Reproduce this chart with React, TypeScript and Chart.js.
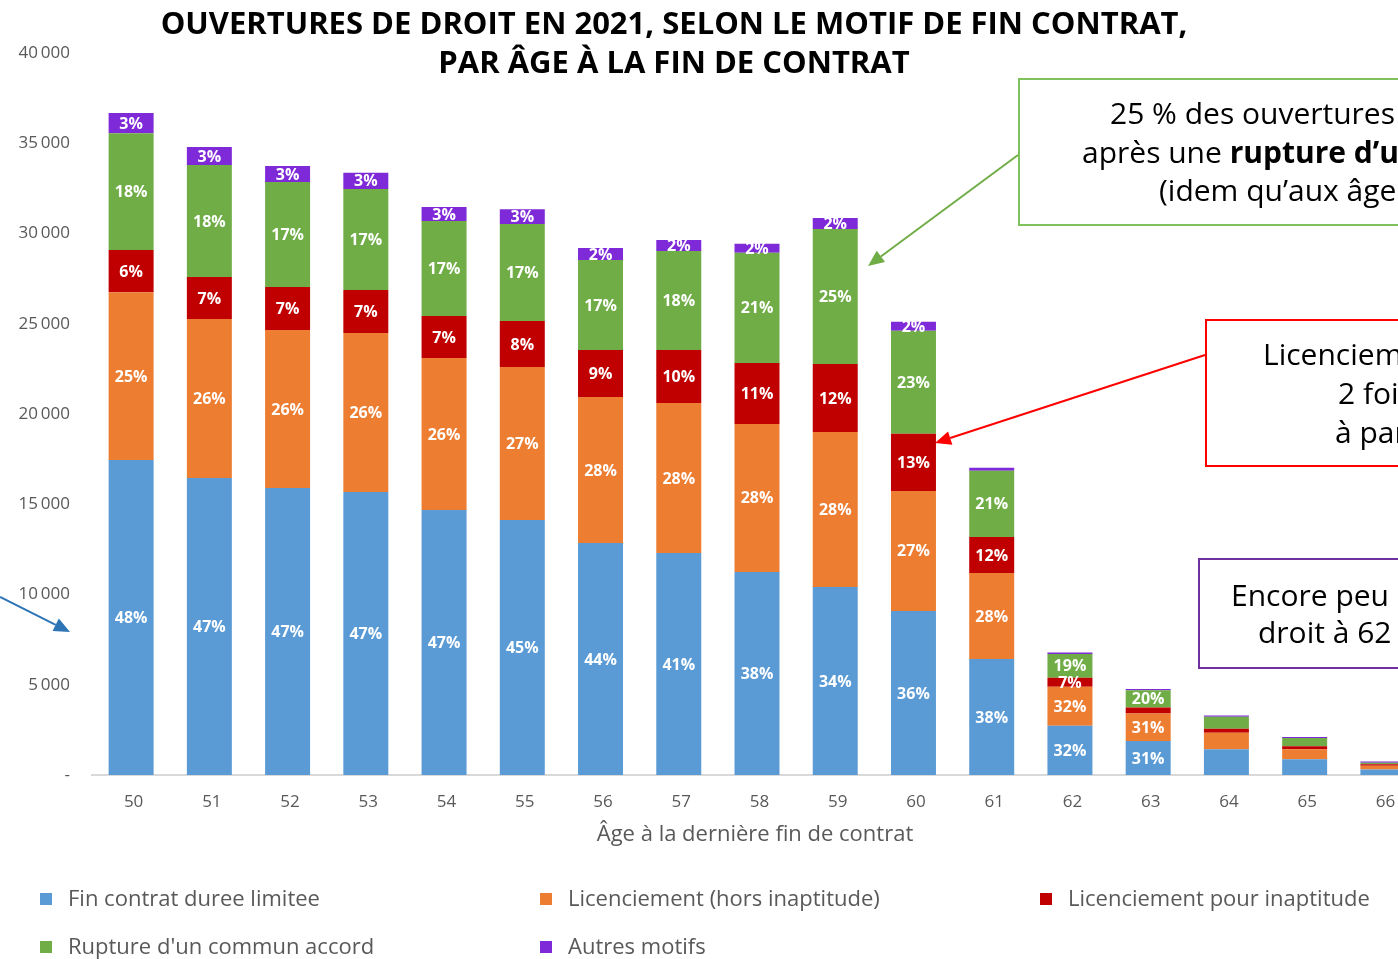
import React, { useEffect, useRef } from "react";
import { Chart, registerables } from "chart.js";

Chart.register(...registerables);

const ages = ["50", "51", "52", "53", "54", "55", "56", "57", "58", "59", "60", "61", "62", "63", "64", "65", "66"];

const finContrat = [17450, 16450, 15900, 15680, 14680, 14130, 12850, 12300, 11250, 10420, 9090, 6430, 2730, 1880, 1420, 870, 310];
const licenciement = [9300, 8810, 8750, 8810, 8420, 8470, 8090, 8310, 8200, 8580, 6650, 4760, 2160, 1530, 920, 550, 200];
const inaptitude = [2330, 2330, 2380, 2380, 2330, 2550, 2600, 2940, 3380, 3770, 3160, 2000, 500, 330, 220, 170, 80];
const rupture = [6480, 6200, 5820, 5600, 5260, 5370, 4990, 5480, 6100, 7480, 5710, 3660, 1310, 960, 670, 460, 90];
const autres = [1110, 1000, 890, 890, 780, 830, 670, 610, 500, 610, 500, 170, 90, 60, 70, 60, 70];

const lblFin = ["48%", "47%", "47%", "47%", "47%", "45%", "44%", "41%", "38%", "34%", "36%", "38%", "32%", "31%", "", "", ""];
const lblLic = ["25%", "26%", "26%", "26%", "26%", "27%", "28%", "28%", "28%", "28%", "27%", "28%", "32%", "31%", "", "", ""];
const lblInapt = ["6%", "7%", "7%", "7%", "7%", "8%", "9%", "10%", "11%", "12%", "13%", "12%", "7%", "", "", "", ""];
const lblRupt = ["18%", "18%", "17%", "17%", "17%", "17%", "17%", "18%", "21%", "25%", "23%", "21%", "19%", "20%", "", "", ""];
const lblAutres = ["3%", "3%", "3%", "3%", "3%", "3%", "2%", "2%", "2%", "2%", "2%", "", "", "", "", "", ""];

const seriesNames = [
  "Fin contrat duree limitee",
  "Licenciement (hors inaptitude)",
  "Licenciement pour inaptitude",
  "Rupture d'un commun accord",
  "Autres motifs",
];
const seriesColors = ["#5B9BD5", "#ED7D31", "#C00000", "#70AD47", "#7E2AD8"];

const titleLines = [
  "OUVERTURES DE DROIT EN 2021, SELON LE MOTIF DE FIN CONTRAT,",
  "PAR ÂGE À LA FIN DE CONTRAT",
];
const axisTitle = "Âge à la dernière fin de contrat";

const FONT = '"Open Sans", sans-serif';
const GREY = "#595959";

function arrow(ctx: CanvasRenderingContext2D, x1: number, y1: number, x2: number, y2: number, color: string) {
  ctx.save();
  ctx.strokeStyle = color;
  ctx.fillStyle = color;
  ctx.lineWidth = 2;
  const a = Math.atan2(y2 - y1, x2 - x1);
  const hl = 16;
  const hw = 7;
  const bx = x2 - hl * Math.cos(a);
  const by = y2 - hl * Math.sin(a);
  ctx.beginPath();
  ctx.moveTo(x1, y1);
  ctx.lineTo(bx, by);
  ctx.stroke();
  ctx.beginPath();
  ctx.moveTo(x2, y2);
  ctx.lineTo(bx + hw * Math.sin(a), by - hw * Math.cos(a));
  ctx.lineTo(bx - hw * Math.sin(a), by + hw * Math.cos(a));
  ctx.closePath();
  ctx.fill();
  ctx.restore();
}

const decorPlugin = {
  id: "decor",
  afterDatasetsDraw(chart: any) {
    const ctx: CanvasRenderingContext2D = chart.ctx;
    const labels = [lblFin, lblLic, lblInapt, lblRupt, lblAutres];
    ctx.save();
    ctx.font = "bold 16px " + FONT;
    ctx.fillStyle = "#ffffff";
    ctx.textAlign = "center";
    ctx.textBaseline = "middle";
    chart.data.datasets.forEach((_: any, di: number) => {
      const meta = chart.getDatasetMeta(di);
      meta.data.forEach((el: any, i: number) => {
        const t = labels[di][i];
        if (!t) return;
        ctx.fillText(t, el.x, (el.y + el.base) / 2 + 1);
      });
    });
    ctx.restore();
  },
  afterDraw(chart: any) {
    const ctx: CanvasRenderingContext2D = chart.ctx;
    ctx.save();
    // title
    ctx.fillStyle = "#000000";
    ctx.font = "bold 31px " + FONT;
    ctx.textAlign = "center";
    ctx.textBaseline = "middle";
    ctx.fillText(titleLines[0], 674, 25);
    ctx.fillText(titleLines[1], 674, 64);

    // x axis title
    const ca = chart.chartArea;
    ctx.fillStyle = GREY;
    ctx.font = "22px " + FONT;
    ctx.fillText(axisTitle, (ca.left + ca.right) / 2 - 2, 835);

    // legend
    const legPos = [
      [40, 900],
      [540, 900],
      [1040, 900],
      [40, 948],
      [540, 948],
    ];
    ctx.textAlign = "left";
    seriesNames.forEach((n, i) => {
      const [x, y] = legPos[i];
      ctx.fillStyle = seriesColors[i];
      ctx.fillRect(x, y - 7, 12, 12);
      ctx.fillStyle = GREY;
      ctx.fillText(n, x + 28, y);
    });

    // annotation boxes
    ctx.lineWidth = 2;
    ctx.strokeStyle = "#7DC25A";
    ctx.strokeRect(1019, 79, 500, 146);
    ctx.strokeStyle = "#FF0000";
    ctx.strokeRect(1206, 320, 400, 146);
    ctx.strokeStyle = "#7030A0";
    ctx.strokeRect(1199, 559, 400, 109);

    ctx.fillStyle = "#000000";
    ctx.font = "30px " + FONT;
    ctx.textBaseline = "middle";
    ctx.fillText("25 % des ouvertures de droit à 59 ans", 1110, 115);
    ctx.fillText("après une ", 1082, 154);
    const w = ctx.measureText("après une ").width;
    ctx.font = "bold 30px " + FONT;
    ctx.fillText("rupture d’un commun accord", 1082 + w, 154);
    ctx.font = "30px " + FONT;
    ctx.fillText("(idem qu’aux âges précédents)", 1159, 192);

    ctx.fillText("Licenciements pour inaptitude", 1263, 356);
    ctx.fillText("2 fois plus fréquents", 1338, 395);
    ctx.fillText("à partir de 60 ans", 1335, 434);

    ctx.fillText("Encore peu d’ouvertures de", 1231, 597);
    ctx.fillText("droit à 62 ans et plus", 1258, 634);

    // arrows
    arrow(ctx, 1018, 155, 868, 266, "#70AD47");
    arrow(ctx, 1205, 355, 935, 443, "#FF0000");
    arrow(ctx, 0, 597, 70, 632, "#2E75B6");
    ctx.restore();
  },
};

export default function App() {
  const ref = useRef<HTMLCanvasElement | null>(null);
  useEffect(() => {
    if (!ref.current) return;
    const values = [finContrat, licenciement, inaptitude, rupture, autres];
    const chart = new Chart(ref.current, {
      type: "bar",
      data: {
        labels: ages,
        datasets: values.map((d, i) => ({
          label: seriesNames[i],
          data: d,
          backgroundColor: seriesColors[i],
          borderWidth: 0,
          barPercentage: 0.575,
          categoryPercentage: 1,
        })),
      },
      options: {
        responsive: false,
        animation: false,
        devicePixelRatio: 1,
        layout: { padding: { top: 53, right: 178, left: 0, bottom: 0 } },
        plugins: {
          legend: { display: false },
          title: { display: false },
          tooltip: { enabled: false },
        },
        scales: {
          x: {
            stacked: true,
            offset: true,
            grid: { display: false, drawTicks: false },
            border: { display: true, color: "#D9D9D9", width: 2 },
            ticks: { color: GREY, font: { size: 17, family: FONT }, padding: 17, labelOffset: 2.5 },
            afterFit: (s: any) => {
              s.height = 184;
            },
          },
          y: {
            stacked: true,
            min: 0,
            max: 40000,
            grid: { display: false, drawTicks: false },
            border: { display: false },
            ticks: {
              stepSize: 5000,
              color: GREY,
              font: { size: 17, family: FONT },
              padding: 22,
              callback: (v: any) => (v === 0 ? "-" : String(v / 1000) + "\u2009000"),
            },
            afterFit: (s: any) => {
              s.width = 92;
            },
          },
        },
      },
      plugins: [decorPlugin],
    });
    return () => chart.destroy();
  }, []);
  return (
    <div
      style={{
        position: "absolute",
        left: 0,
        top: 0,
        width: 1398,
        height: 959,
        overflow: "hidden",
        background: "#ffffff",
      }}
    >
      <canvas ref={ref} width={1600} height={959} style={{ display: "block", width: 1600, height: 959 }} />
    </div>
  );
}
